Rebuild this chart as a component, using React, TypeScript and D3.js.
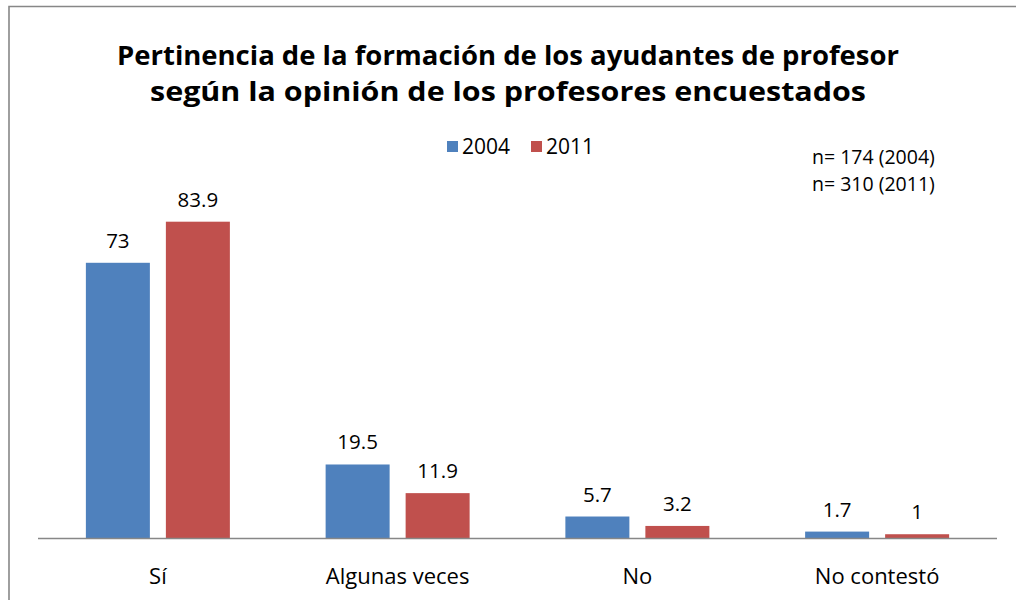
import React from "react";
import * as d3 from "d3";

const categories = ["Sí", "Algunas veces", "No", "No contestó"];
const seriesNames = ["2004", "2011"];
const values2004 = [73, 19.5, 5.7, 1.7];
const values2011 = [83.9, 11.9, 3.2, 1];
const colors = ["#4F81BD", "#C0504D"];
const titleLines = [
  "Pertinencia  de la formación de los ayudantes de profesor",
  "según la opinión de los profesores encuestados",
];
const noteLines = ["n= 174 (2004)", "n= 310 (2011)"];

const W = 1016;
const H = 600;
const font = "'Open Sans', Lato, sans-serif";

export default function App() {
  const plotLeft = 38;
  const plotRight = 997;
  const axisY = 538;
  const x0 = d3.scaleBand<string>().domain(categories).range([plotLeft, plotRight]).paddingInner(0).paddingOuter(0);
  const y = d3.scaleLinear().domain([0, 100]).range([axisY, 161]);
  const barW = 64;
  const gap = 16;
  const series = [values2004, values2011];
  const titleWidths = [782, 716];

  return (
    <svg
      width={W}
      height={H}
      style={{ position: "absolute", left: 0, top: 0, background: "#fff" }}
      fontFamily={font}
    >
      <rect x={0} y={0} width={W} height={H} fill="#fff" />
      <path d={`M9,${H + 5} L9,6.5 L${W + 5},6.5`} fill="none" stroke="#878787" strokeWidth={1.6} />
      {titleLines.map((t, i) => (
        <text
          key={i}
          x={508}
          y={65 + i * 36}
          textAnchor="middle"
          fontSize={27}
          fontWeight="bold"
          fill="#000"
          textLength={titleWidths[i]}
          lengthAdjust="spacingAndGlyphs"
        >
          {t}
        </text>
      ))}
      {/* legend */}
      {seriesNames.map((s, i) => {
        const lx = 447 + i * 84;
        return (
          <g key={s}>
            <rect x={lx} y={141} width={11} height={11} fill={colors[i]} />
            <text x={lx + 15} y={154} fontSize={21} fill="#000">
              {s}
            </text>
          </g>
        );
      })}
      {noteLines.map((t, i) => (
        <text key={i} x={812} y={164 + i * 27} fontSize={19.5} fill="#000">
          {t}
        </text>
      ))}
      {/* bars */}
      {categories.map((c) => {
        const cx = (x0(c) as number) + x0.bandwidth() / 2;
        return series.map((vals, si) => {
          const v = vals[categories.indexOf(c)];
          const bx = si === 0 ? cx - gap / 2 - barW : cx + gap / 2;
          return (
            <g key={c + si}>
              <rect x={bx} y={y(v)} width={barW} height={axisY - y(v)} fill={colors[si]} />
              <text x={bx + barW / 2} y={y(v) - 15} textAnchor="middle" fontSize={20.5} fill="#000">
                {String(v)}
              </text>
            </g>
          );
        });
      })}
      <line x1={plotLeft} x2={plotRight} y1={axisY + 0.5} y2={axisY + 0.5} stroke="#878787" strokeWidth={1.5} />
      {categories.map((c) => (
        <text
          key={c}
          x={(x0(c) as number) + x0.bandwidth() / 2}
          y={584}
          textAnchor="middle"
          fontSize={22}
          fill="#000"
        >
          {c}
        </text>
      ))}
    </svg>
  );
}
